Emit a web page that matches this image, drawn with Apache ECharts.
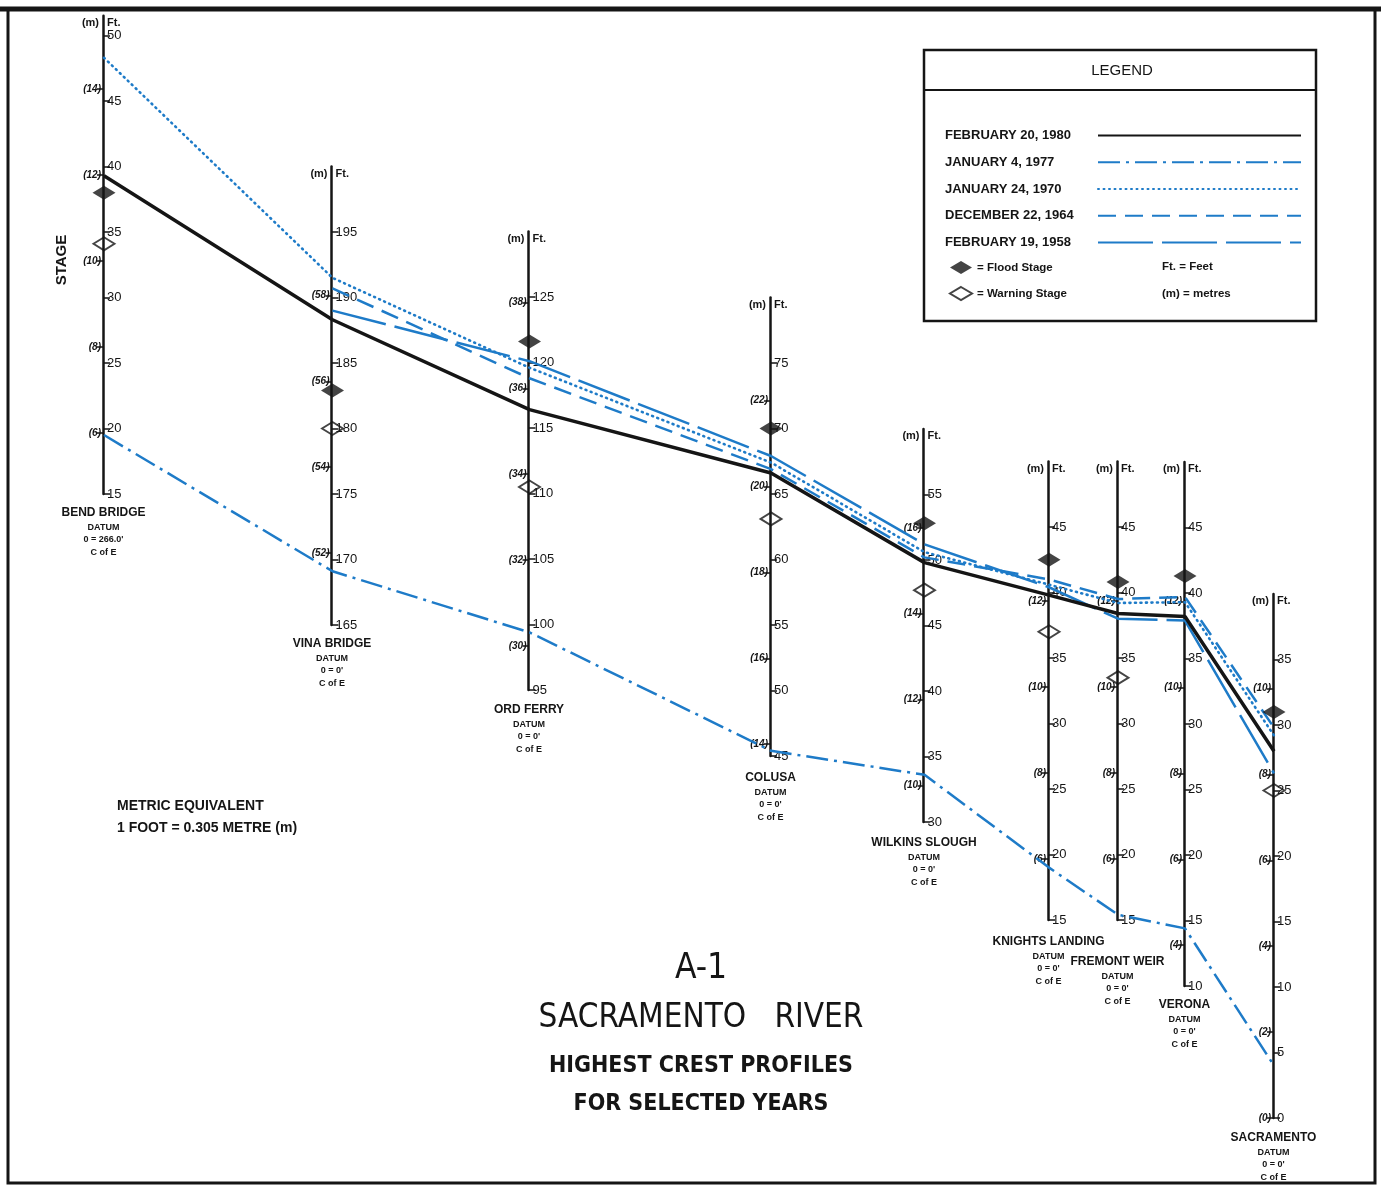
<!DOCTYPE html>
<html><head><meta charset="utf-8">
<script src="https://cdn.jsdelivr.net/npm/echarts@6/dist/echarts.min.js"></script>
<style>html,body{margin:0;padding:0;background:#fff}#c{width:1381px;height:1188px}</style>
</head><body><div id="c"></div>
<script>
// ---------------- DATA ----------------
const stations = ['BEND BRIDGE','VINA BRIDGE','ORD FERRY','COLUSA','WILKINS SLOUGH','KNIGHTS LANDING','FREMONT WEIR','VERONA','SACRAMENTO'];
const datums = ["0 = 266.0'","0 = 0'","0 = 0'","0 = 0'","0 = 0'","0 = 0'","0 = 0'","0 = 0'","0 = 0'"];
const ftMin = [15,165,95,45,30,15,15,10,0];
const ftMax = [51.5,200,130,80,60,50,50,50,40];
const ftTicks = [
  [15,20,25,30,35,40,45,50],
  [165,170,175,180,185,190,195],
  [95,100,105,110,115,120,125],
  [45,50,55,60,65,70,75],
  [30,35,40,45,50,55],
  [15,20,25,30,35,40,45],
  [15,20,25,30,35,40,45],
  [10,15,20,25,30,35,40,45],
  [0,5,10,15,20,25,30,35]
];
const mTicks = [
  [6,8,10,12,14],
  [52,54,56,58],
  [30,32,34,36,38],
  [14,16,18,20,22],
  [10,12,14,16],
  [6,8,10,12],
  [6,8,10,12],
  [4,6,8,10,12],
  [0,2,4,6,8,10]
];
const FT_TO_M = 0.305;
const floodStage   = [38.0,182.9,121.6,70.0,52.8,42.5,40.8,41.3,31.0];
const warningStage = [34.1,180.0,110.5,63.1,47.7,37.0,33.5,null,25.0];
const seriesNames = ['FEBRUARY 20, 1980','JANUARY 4, 1977','JANUARY 24, 1970','DECEMBER 22, 1964','FEBRUARY 19, 1958'];
const crest1980 = [39.3,188.3,116.4,66.6,49.8,39.8,38.4,38.2,28.0];
const crest1977 = [19.5,169.1,99.4,45.4,33.6,19.0,15.4,14.4,4.0];
const crest1970 = [48.3,191.5,119.6,67.4,50.6,40.6,39.2,39.3,29.2];
const crest1964 = [null,190.7,118.8,66.9,50.2,41.0,39.5,39.7,29.8];
const crest1958 = [null,189.0,120.1,67.9,51.2,40.4,38.0,37.9,26.3];

// ---------------- LAYOUT ----------------
const W = 1381, H = 1188, S = 13.1; // px per foot on every station axis
const stationPx = [104,332.5,529.5,771,924.5,1049,1118,1185,1274];
const axisBottomPx = [494,625,690,756,822,920,920,986,1118];
const nameGapPx = [10,10,11,13,12,13,33,10,11];
const blue = '#1e7bc8', ink = '#151515';
const FONT = "'Liberation Sans', Arial, sans-serif";
const NARROW = "'Liberation Sans Narrow', 'DejaVu Sans Condensed', 'Liberation Sans', sans-serif";

function toCommon(i, ft){ return (H - axisBottomPx[i]) / S + (ft - ftMin[i]); }
function build(vals){
  return vals.map((v,i)=> v==null ? null : [stationPx[i], toCommon(i,v)]).filter(Boolean);
}

const grids = [], xAxes = [], yAxes = [];
stations.forEach((st,i)=>{
  const h = (ftMax[i]-ftMin[i]) * S;
  grids.push({left: stationPx[i]-1, width: 1, top: axisBottomPx[i]-h, height: h, outerBoundsMode:'none', containLabel:false});
  xAxes.push({
    type:'value', gridIndex:i, min:0, max:1, show:true,
    axisLine:{show:false}, axisTick:{show:false}, axisLabel:{show:false}, splitLine:{show:false},
    name: '{n|'+st+'}\n{d|DATUM}\n{d|'+datums[i]+'}\n{d|C of E}',
    nameLocation:'middle', nameGap: nameGapPx[i],
    nameTextStyle:{
      align:'center', verticalAlign:'top',
      rich:{
        n:{fontSize:12, fontWeight:'bold', fontFamily:FONT, color:ink, lineHeight:17},
        d:{fontSize:9, fontWeight:'bold', fontFamily:FONT, color:ink, lineHeight:12.5}
      }
    }
  });
  // feet axis (right side labels)
  yAxes.push({
    type:'value', gridIndex:i, position:'right', min:ftMin[i], max:ftMax[i],
    axisLine:{show:true, lineStyle:{color:ink, width:2.5}},
    axisTick:{show:true, length:7, lineStyle:{color:ink, width:1.5}, customValues: ftTicks[i]},
    axisLabel:{show:true, margin:3, color:ink, fontSize:13, fontFamily:FONT, customValues: ftTicks[i]},
    splitLine:{show:false},
    name:'Ft.', nameLocation:'end', nameGap:-7,
    nameTextStyle:{align:'left', verticalAlign:'middle', padding:[0,0,0,4], fontSize:11, fontWeight:'bold', fontFamily:FONT, color:ink}
  });
  // metric axis (left side labels)
  yAxes.push({
    type:'value', gridIndex:i, position:'left', min:ftMin[i]*FT_TO_M, max:ftMax[i]*FT_TO_M,
    axisLine:{show:false},
    axisTick:{show:true, length:6, lineStyle:{color:ink, width:1.5}, customValues: mTicks[i]},
    axisLabel:{show:true, margin:2, color:ink, fontSize:10, fontStyle:'italic', fontWeight:'bold', fontFamily:FONT,
      customValues: mTicks[i], formatter: v => '('+v+')'},
    splitLine:{show:false},
    name:'(m)', nameLocation:'end', nameGap:-7,
    nameTextStyle:{align:'right', verticalAlign:'middle', padding:[0,4,0,0], fontSize:11, fontWeight:'bold', fontFamily:FONT, color:ink}
  });
});
// overlay grid for the profiles
grids.push({left:0, top:0, width:W, height:H, outerBoundsMode:'none', containLabel:false});
xAxes.push({type:'value', gridIndex:9, min:0, max:W, show:false});
yAxes.push({type:'value', gridIndex:9, min:0, max:H/S, show:false});
const MX = 9, MY = yAxes.length-1;

const lineDef = [
  {data:crest1980, color:ink,  width:3.5, type:'solid', z:6},
  {data:crest1977, color:blue, width:2.5, type:[22,6,3,6], z:5},
  {data:crest1970, color:blue, width:2.6, type:[1,4.5], cap:'round', z:5},
  {data:crest1964, color:blue, width:2.5, type:[18,9], z:5},
  {data:crest1958, color:blue, width:2.5, type:[55,9], z:5}
];
const series = lineDef.map((d,k)=>({
  name: seriesNames[k], type:'line', xAxisIndex:MX, yAxisIndex:MY,
  data: build(d.data), symbol:'none', z:d.z, silent:true,
  lineStyle:{color:d.color, width:d.width, type:d.type, cap:d.cap||'butt'},
  itemStyle:{color:d.color}
}));
series.push({
  name:'Flood Stage', type:'scatter', xAxisIndex:MX, yAxisIndex:MY, data: build(floodStage),
  symbol:'diamond', symbolSize:[23,14], z:8, itemStyle:{color:ink}
});
series.push({
  name:'Warning Stage', type:'scatter', xAxisIndex:MX, yAxisIndex:MY, data: build(warningStage),
  symbol:'diamond', symbolSize:[21,13], z:8, itemStyle:{color:'rgba(255,255,255,0)', borderColor:ink, borderWidth:2}
});

const option = {
  animation:false,
  backgroundColor:'#fff',
  grid: grids, xAxis: xAxes, yAxis: yAxes, series: series,
  legend:[
    {data: seriesNames, orient:'vertical', left:940, top:124, itemWidth:203, itemHeight:14, itemGap:13.75,
     align:'right', selectedMode:false, itemStyle:{opacity:0},
     formatter: n => '{t|'+n+'}',
     textStyle:{color:ink, rich:{t:{width:148, align:'left', lineHeight:14, fontSize:13, fontWeight:'bold', fontFamily:FONT, color:ink}}}},
    {data:['Flood Stage','Warning Stage'], orient:'vertical', left:944, top:256, itemWidth:22, itemHeight:13, itemGap:12,
     selectedMode:false, formatter: n => '= '+n,
     textStyle:{fontSize:11.5, fontWeight:'bold', fontFamily:FONT, color:ink, lineHeight:13}}
  ],
  title:[
    {text:'A-1', left:696, top:946, textAlign:'center', textStyle:{fontSize:35, fontWeight:'normal', fontFamily:NARROW, color:ink}},
    {text:'SACRAMENTO   RIVER', left:696, top:997, textAlign:'center', textStyle:{fontSize:33, fontWeight:'normal', fontFamily:NARROW, color:ink}},
    {text:'HIGHEST CREST PROFILES', left:696, top:1050, textAlign:'center', textStyle:{fontSize:23, fontWeight:'bold', fontFamily:NARROW, color:ink}},
    {text:'FOR SELECTED YEARS', left:696, top:1088, textAlign:'center', textStyle:{fontSize:23, fontWeight:'bold', fontFamily:NARROW, color:ink}}
  ],
  graphic:[
    {type:'rect', shape:{x:8, y:9, width:1367, height:1174}, style:{fill:'none', stroke:ink, lineWidth:3}, silent:true},
    {type:'line', shape:{x1:0, y1:9, x2:W, y2:9}, style:{stroke:ink, lineWidth:5}, silent:true},
    {type:'rect', shape:{x:924, y:50, width:392, height:271}, style:{fill:'#fff', stroke:ink, lineWidth:2.5}, z:-1, silent:true},
    {type:'line', shape:{x1:924, y1:90, x2:1316, y2:90}, style:{stroke:ink, lineWidth:2}, silent:true},
    {type:'text', x:1122, y:71, style:{text:'LEGEND', fontSize:15, fontFamily:FONT, fill:ink, align:'center', verticalAlign:'middle'}, silent:true},
    {type:'text', x:1162, y:267, style:{text:'Ft. = Feet', fontSize:11.5, fontWeight:'bold', fontFamily:FONT, fill:ink, verticalAlign:'middle'}, silent:true},
    {type:'text', x:1162, y:294, style:{text:'(m) = metres', fontSize:11.5, fontWeight:'bold', fontFamily:FONT, fill:ink, verticalAlign:'middle'}, silent:true},
    {type:'text', x:62, y:260, rotation:Math.PI/2, style:{text:'STAGE', fontSize:15, fontWeight:'bold', fontFamily:FONT, fill:ink, align:'center', verticalAlign:'middle'}, silent:true},
    {type:'text', x:117, y:806, style:{text:'METRIC EQUIVALENT', fontSize:14, fontWeight:'bold', fontFamily:FONT, fill:ink, verticalAlign:'middle'}, silent:true},
    {type:'text', x:117, y:828, style:{text:'1 FOOT = 0.305 METRE (m)', fontSize:14, fontWeight:'bold', fontFamily:FONT, fill:ink, verticalAlign:'middle'}, silent:true}
  ]
};
const chart = echarts.init(document.getElementById('c'), null, {renderer:'canvas'});
chart.setOption(option);
</script>
</body></html>
